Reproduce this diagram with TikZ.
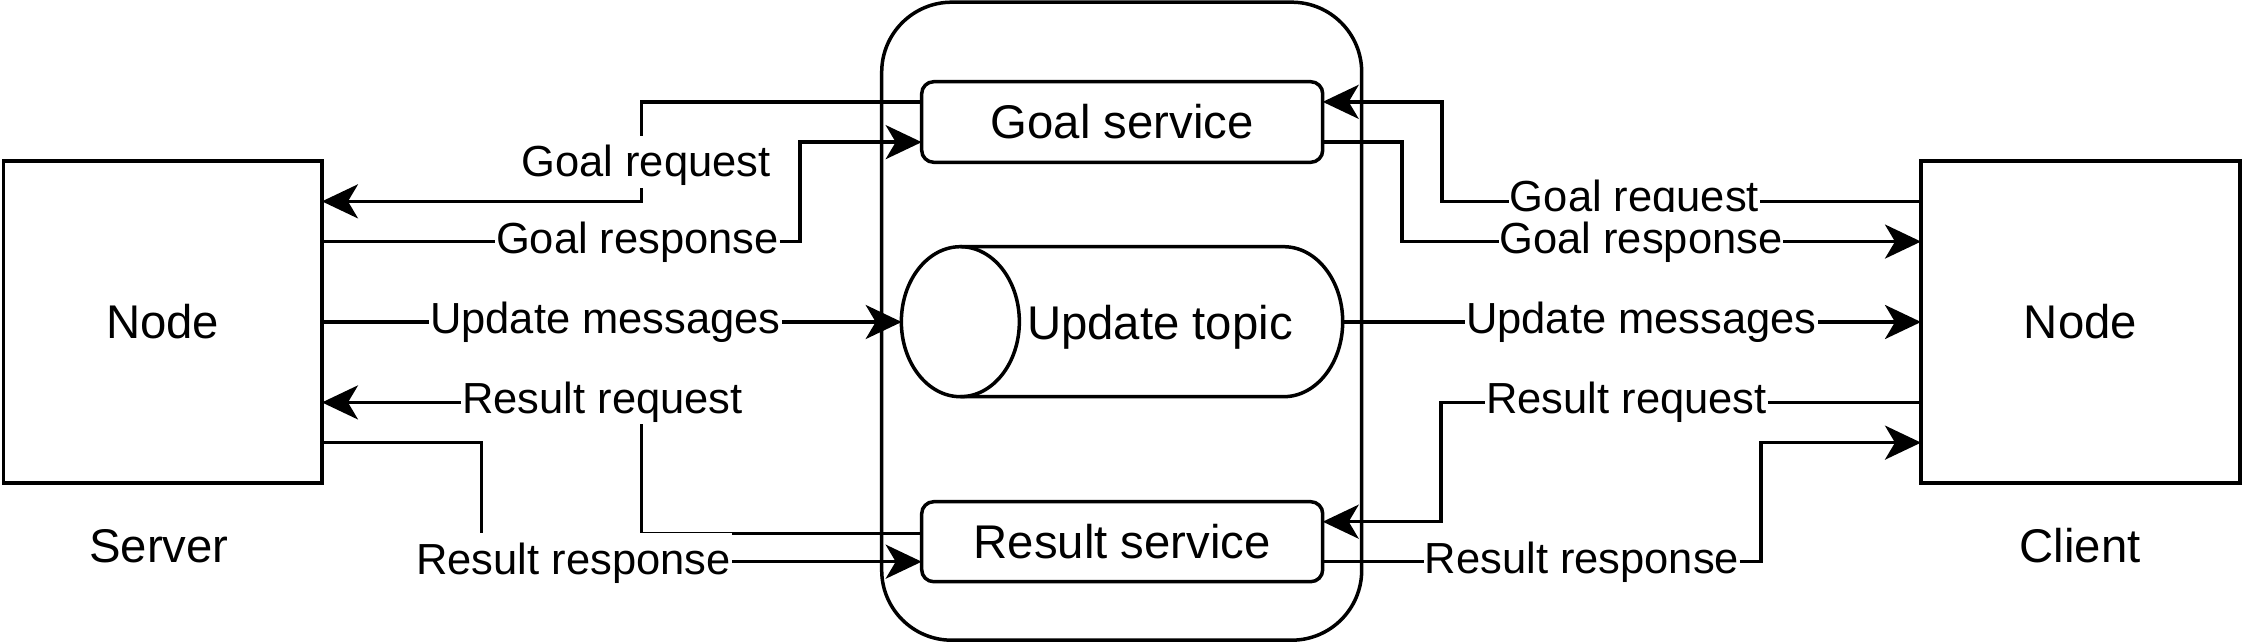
\documentclass[tikz,border=0pt]{standalone}
\usepackage{fontspec}
\setmainfont{Liberation Sans}
\usetikzlibrary{arrows.meta,calc}
\newcommand\mynodefont{\fontsize{47.3}{56}\selectfont}
\newcommand\mylblfont{\fontsize{43.5}{52}\selectfont}
\begin{document}
\begin{tikzpicture}[x=1pt,y=-1pt,
  every node/.style={inner sep=0pt, outer sep=0pt},
  box/.style={draw, line width=3.5pt, font=\mynodefont, text height=34pt, text depth=0pt, align=center},
  txt/.style={font=\mynodefont, text height=34pt, text depth=0pt},
  lbl/.style={fill=white, font=\mylblfont, inner xsep=1pt, inner ysep=0pt, text height=41pt, text depth=11pt, anchor=base},
  ln/.style={line width=3.5pt},
  arr/.style={line width=3.5pt, -{Stealth[length=36pt,width=34pt,inset=10pt]}}]
\useasboundingbox (0,0) rectangle (2244,644);
\fill[white] (0,0) rectangle (2244,644);

% container
\node[box, fill=white, minimum width=480pt, minimum height=638pt, rounded corners=70pt] (cont) at (1121.7,321.2) {};

% main nodes
\node[box, minimum width=318.5pt, minimum height=321.7pt] (serv) at (162.7,322) {Node};
\node[box, minimum width=319pt, minimum height=321.7pt] (cli) at (2080.5,322) {Node};
\node[box, minimum width=401pt, minimum height=80.6pt, rounded corners=12pt] (goal) at (1122.2,122) {Goal service};
\node[box, minimum width=401pt, minimum height=80pt, rounded corners=12pt] (res) at (1122.2,541.7) {Result service};

% cylinder (topic)
\node[minimum width=441pt, minimum height=150pt] (topic) at (1122.2,321.7) {};
\draw[ln] (960.35,246.7) -- (1283.7,246.7) arc[start angle=90,end angle=-90,x radius=59pt,y radius=75pt] -- (960.35,396.7);
\draw[ln] (960.35,321.7) ellipse[x radius=59pt, y radius=75pt];
\node[txt] (topictxt) at (1160,322.5) {Update topic};

% captions
\node[txt] (srvlbl) at (159,545) {Server};
\node[txt] (clilbl) at (2080,545) {Client};

% connection points
\coordinate (gqG) at ($(goal.north west)!0.25!(goal.south west)$);
\coordinate (gpG) at ($(goal.north west)!0.75!(goal.south west)$);
\coordinate (gqGr) at ($(goal.north east)!0.25!(goal.south east)$);
\coordinate (gpGr) at ($(goal.north east)!0.75!(goal.south east)$);
\coordinate (rqR) at ($(res.north west)!0.4!(res.south west)$);
\coordinate (rpR) at ($(res.north west)!0.75!(res.south west)$);
\coordinate (rqRr) at ($(res.north east)!0.25!(res.south east)$);
\coordinate (rpRr) at ($(res.north east)!0.75!(res.south east)$);
\coordinate (sA) at ($(serv.north east)!0.125!(serv.south east)$);
\coordinate (sB) at ($(serv.north east)!0.25!(serv.south east)$);
\coordinate (sD) at ($(serv.north east)!0.75!(serv.south east)$);
\coordinate (sE) at ($(serv.north east)!0.875!(serv.south east)$);
\coordinate (cA) at ($(cli.north west)!0.125!(cli.south west)$);
\coordinate (cB) at ($(cli.north west)!0.25!(cli.south west)$);
\coordinate (cD) at ($(cli.north west)!0.75!(cli.south west)$);
\coordinate (cE) at ($(cli.north west)!0.875!(cli.south west)$);

% left connectors
\draw[arr] (gqG) -| (641.5,0 |- sA) -- (sA);
\draw[arr] (sB) -| (800,0 |- gpG) -- (gpG);
\draw[arr] (serv.east) -- (topic.west |- serv.east);
\draw[arr] (rqR) -| (641.5,0 |- sD) -- (sD);
\draw[arr] (sE) -| (481.5,0 |- rpR) -- (rpR);

% right connectors
\draw[arr] (cA) -| (1441.8,0 |- gqGr) -- (gqGr);
\draw[arr] (gpGr) -| (1402,0 |- cB) -- (cB);
\draw[arr] (topic.east |- cli.west) -- (cli.west);
\draw[arr] (cD) -| (1441,0 |- rqRr) -- (rqRr);
\draw[arr] (rpRr) -| (1761,0 |- cE) -- (cE);

% labels
\node[lbl] (l1) at (646,176.7) {Goal request};
\node[lbl] (l2) at (637.5,253.5) {Goal response};
\node[lbl] (l3) at (605.5,333.5) {Update messages};
\node[lbl] (l4) at (602.5,413) {Result request};
\node[lbl] (l5) at (573.5,574) {Result response};
\node[lbl] (r1) at (1634.5,212) {Goal request};
\node[lbl] (r2) at (1641,253.5) {Goal response};
\node[lbl] (r3) at (1641.5,333.5) {Update messages};
\node[lbl] (r4) at (1626.5,413) {Result request};
\node[lbl] (r5) at (1582,573) {Result response};
\end{tikzpicture}
\end{document}
